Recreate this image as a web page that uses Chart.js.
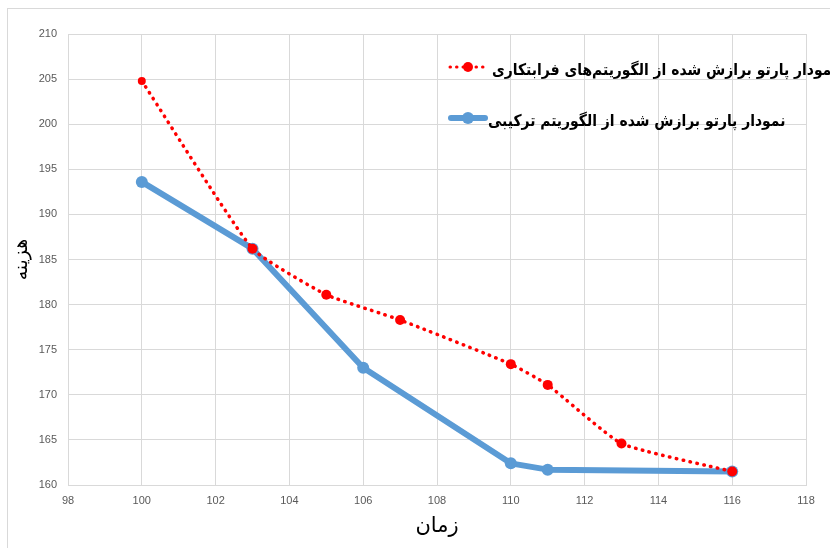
<!DOCTYPE html>
<html><head><meta charset="utf-8">
<script src="https://cdn.jsdelivr.net/npm/chart.js@4"></script>
<style>
html,body{margin:0;padding:0;background:#fff;overflow:hidden}
#wrap{position:relative;width:830px;height:548px;overflow:hidden}
#frame{position:absolute;left:7px;top:8px;width:900px;height:700px;border:1px solid #d9d9d9}
canvas{position:absolute;left:0;top:0}
.lg{position:absolute;font:bold 16px "DejaVu Sans";color:#000;white-space:nowrap;direction:rtl;line-height:20px;transform-origin:left center;transform:scaleX(0.87)}
.smp{position:absolute}
</style></head><body>
<div id="wrap">
<div id="frame"></div>
<canvas id="c" width="830" height="548"></canvas>
<svg class="smp" style="left:445px;top:57px" width="45" height="20">
  <line x1="5" y1="10" x2="40" y2="10" stroke="#ff0000" stroke-width="3" stroke-dasharray="0.5 6" stroke-linecap="round"/>
  <circle cx="23" cy="10" r="5" fill="#ff0000"/>
</svg>
<svg class="smp" style="left:445px;top:108px" width="45" height="20">
  <line x1="6" y1="10" x2="40" y2="10" stroke="#5b9bd5" stroke-width="6" stroke-linecap="round"/>
  <circle cx="23" cy="10" r="6" fill="#5b9bd5"/>
</svg>
<div class="lg" id="l1" style="left:492px;top:60px"></div>
<div class="lg" id="l2" style="left:488px;top:111px"></div>
</div>
<script>
const heurTime = [100, 103, 105, 107, 110, 111, 113, 116];
const heurCost = [204.8, 186.2, 181.1, 178.3, 173.4, 171.1, 164.6, 161.5];
const hybTime = [100, 103, 106, 110, 111, 116];
const hybCost = [193.6, 186.2, 173.0, 162.4, 161.7, 161.5];
const heurLabel = 'نمودار پارتو برازش شده از الگوریتم‌های فرابتکاری';
const hybLabel = 'نمودار پارتو برازش شده از الگوریتم ترکیبی';
const xTitle = 'زمان';
const yTitle = 'هزینه';
const xMin = 98, xMax = 118, xStep = 2;
const yMin = 160, yMax = 210, yStep = 5;

document.getElementById('l1').textContent = heurLabel;
document.getElementById('l2').textContent = hybLabel;

const toPts = (xs, ys) => xs.map((x, i) => ({x: x, y: ys[i]}));
const gridC = '#d9d9d9';
const tickC = '#595959';

new Chart(document.getElementById('c'), {
  type: 'line',
  data: {
    datasets: [
      {
        label: heurLabel,
        data: toPts(heurTime, heurCost),
        borderColor: '#ff0000',
        backgroundColor: '#ff0000',
        borderWidth: 3.5,
        borderDash: [0.5, 6.5],
        borderCapStyle: 'round',
        pointRadius: [4, 5, 5, 5, 5, 5, 5, 5],
        pointHoverRadius: 5,
        pointBorderWidth: 0,
        tension: 0.15,
        fill: false
      },
      {
        label: hybLabel,
        data: toPts(hybTime, hybCost),
        borderColor: '#5b9bd5',
        backgroundColor: '#5b9bd5',
        borderWidth: 6,
        borderCapStyle: 'round',
        borderJoinStyle: 'round',
        pointRadius: 6,
        pointHoverRadius: 6,
        pointBorderWidth: 0,
        tension: 0,
        fill: false
      }
    ]
  },
  options: {
    responsive: false,
    animation: false,
    events: [],
    layout: {padding: {top: 34, right: 24, left: 0, bottom: 0}},
    plugins: {legend: {display: false}, tooltip: {enabled: false}},
    scales: {
      x: {
        type: 'linear', min: xMin, max: xMax,
        ticks: {stepSize: xStep, color: tickC, font: {family: 'Liberation Sans', size: 11}, padding: 9},
        grid: {color: gridC, drawTicks: false},
        border: {color: gridC},
        title: {display: true, text: xTitle, color: '#000', font: {family: 'DejaVu Sans', size: 21}, padding: {top: 0, bottom: 9}},
        afterFit: s => { s.height = 63; }
      },
      y: {
        min: yMin, max: yMax,
        ticks: {stepSize: yStep, color: tickC, font: {family: 'Liberation Sans', size: 11}, padding: 11},
        grid: {color: gridC, drawTicks: false},
        border: {color: gridC},
        title: {display: true, text: yTitle, color: '#000', font: {family: 'DejaVu Sans', size: 19}, padding: {top: 11, bottom: 0}},
        afterFit: s => { s.width = 68; }
      }
    }
  }
});
</script>
</body></html>
